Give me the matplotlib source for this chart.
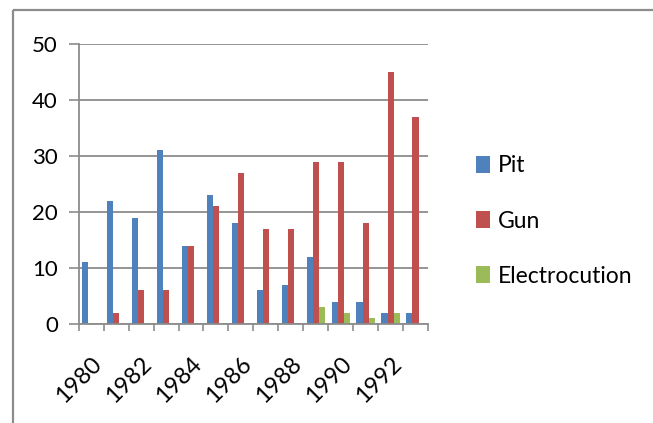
import numpy as np
import matplotlib.pyplot as plt
from matplotlib.lines import Line2D

plt.rcParams['font.family'] = ['Lato', 'DejaVu Sans']

years = list(range(1980, 1994))
pit = [11, 22, 19, 31, 14, 23, 18, 6, 7, 12, 4, 4, 2, 2]
gun = [0, 2, 6, 6, 14, 21, 27, 17, 17, 29, 29, 18, 45, 37]
electrocution = [0, 0, 0, 0, 0, 0, 0, 0, 0, 3, 2, 1, 2, 0]
yticks = [0, 10, 20, 30, 40, 50]

W, H = 653, 423
fig = plt.figure(figsize=(W / 100, H / 100), dpi=100)
ax = fig.add_axes([78.7 / W, (H - 324) / H, (428 - 78.7) / W, (324 - 44) / H])

# outer chart frame (only top and left edges visible in the crop)
frame_kw = dict(transform=fig.transFigure, color='#8c8c8c', linewidth=1.6,
                solid_capstyle='butt')
fig.lines.append(Line2D([13 / W, 1.0], [(H - 10) / H] * 2, **frame_kw))
fig.lines.append(Line2D([13 / W] * 2, [(H - 10) / H, 0.0], **frame_kw))

x = np.arange(len(years))
w = 0.245
colors = ['#4F81BD', '#C0504D', '#9BBB59']
ax.bar(x - w, pit, w, color=colors[0], label='Pit')
ax.bar(x, gun, w, color=colors[1], label='Gun')
ax.bar(x + w, electrocution, w, color=colors[2], label='Electrocution')

ax.set_xlim(-0.5, len(years) - 0.5)
ax.set_ylim(0, 50)
ax.set_yticks(yticks)
ax.yaxis.grid(True, color='#8c8c8c', linewidth=1.3)
ax.set_axisbelow(True)

ax.set_xticks(np.arange(-0.5, len(years), 1))
ax.set_xticklabels([])
ax.set_xticks(x[::2], minor=True)
ax.set_xticklabels([str(y) for y in years[::2]], minor=True,
                   rotation=45, ha='right', rotation_mode='anchor')
ax.tick_params(axis='x', which='major', length=5, color='#8c8c8c', width=1.2)
ax.tick_params(axis='x', which='minor', length=0, pad=21, labelsize=17)
ax.tick_params(axis='y', length=7, color='#8c8c8c', width=1.2, labelsize=16, pad=8)

for s in ['top', 'right']:
    ax.spines[s].set_visible(False)
for s in ['left', 'bottom']:
    ax.spines[s].set_color('#8c8c8c')
    ax.spines[s].set_linewidth(1.3)

fig.legend(loc='center left', bbox_to_anchor=(455 / W, (H - 221) / H),
           frameon=False, fontsize=16.5, handlelength=0.62, handleheight=0.75,
           handletextpad=0.35, labelspacing=1.5)

fig.savefig('out.png', dpi=100)
